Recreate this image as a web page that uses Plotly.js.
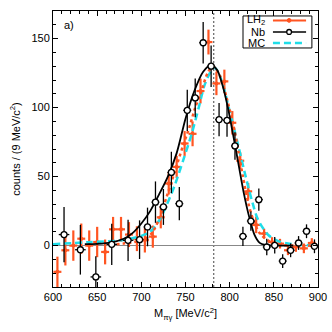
<!DOCTYPE html>
<html>
<head>
<meta charset="utf-8">
<script src="https://cdn.plot.ly/plotly-3.0.1.min.js"></script>
<style>
  html, body { margin: 0; padding: 0; background: #fff; }
  #chart { width: 332px; height: 332px; }
</style>
</head>
<body>
<div id="chart"></div>
<script>
// LH2 data points (9 MeV bins)
var lh2Mass = [605, 614, 623, 632, 641, 650, 659, 668, 677, 686, 695, 704, 713, 722, 731, 740, 749, 758, 767, 776, 785, 794, 803, 812, 821, 830, 839, 848, 857, 866, 875, 884, 893];
var lh2Counts = [-19, -3.4, 0, 5, 0, 2.6, -4.6, 11.8, 11.8, 8, 5, 4, 6.5, 20.5, 45, 57, 74, 81, 112, 147.5, 117.5, 119, 89, 61.5, 39.3, 15, 8.7, 2.6, 1.4, -3.4, -1, -2, 1.9];
var lh2Err = [11, 11, 11, 11, 11, 11, 9, 9, 9, 9, 9, 9, 8, 8, 8, 8, 9, 9, 9, 9, 8.5, 8.5, 8.5, 6, 6, 6, 3.5, 3.5, 3.5, 3.5, 3.5, 3.5, 3.5];

// Nb data points
var nbMass = [612.5, 631, 648.5, 666.5, 685, 698, 707, 716, 725, 734, 743, 752, 761, 770, 779, 788, 797, 806, 815, 824, 833, 842, 851, 860, 869, 878, 887, 896];
var nbCounts = [8, -3, -22.7, 0.9, 3.8, 4.3, 13.5, 31.5, 28, 53, 30.4, 98, 107, 147, 130, 91.3, 90.8, 72.2, 6.7, 17.8, 33.3, -1, 0.2, -11.2, -3.4, 1.9, 10.4, -0.5];
var nbErr = [20, 18, 15, 15, 15, 14, 14, 15, 13, 15, 12, 15, 14, 15, 15, 12, 12, 10, 7, 7, 8, 6, 6, 5, 5, 5, 5, 5];
var nbMassErr = [6, 6, 6, 6, 6, 4.5, 4.5, 4.5, 4.5, 4.5, 4.5, 4.5, 4.5, 4.5, 4.5, 4.5, 4.5, 4.5, 4.5, 4.5, 4.5, 4.5, 4.5, 4.5, 4.5, 4.5, 4.5, 4.5];

// fit curves
var nbFitX = [636, 650, 665, 680, 690, 700, 710, 720, 730, 740, 750, 760, 770, 779, 786, 792, 798, 804, 810, 816, 822, 828, 834, 840, 850, 872];
var nbFitY = [1, 1.3, 2.2, 5, 9, 16, 25, 37, 50, 67, 92, 112, 126, 131, 127, 116, 100, 80, 59, 38, 21, 8, 2, 0.5, 0, 0];

var lh2FitX = [665, 680, 695, 705, 713, 721, 729, 737, 747, 755, 761, 767, 775, 781, 789, 797, 804, 810, 815, 821, 827, 834, 844, 859, 880, 895];
var lh2FitY = [0.5, 1.5, 3, 5, 10, 21, 36, 52, 72, 87, 100, 110, 125, 130, 123, 106, 88, 68, 50, 31, 18, 9, 3.5, 0.5, 0, 0];

var mcX = [600, 640, 680, 700, 710, 720, 729, 738, 748, 757, 765, 772, 782, 787, 793, 799, 808, 817, 825, 832, 844, 855, 866, 880, 900];
var mcY = [1, 2.5, 4, 7, 10, 18, 30, 44, 63, 81, 100, 117, 129, 126, 115, 100, 77, 53, 33, 19, 7.5, 3.3, 1.5, 0.5, 0.2];

var omegaMass = 782;

var orange = '#ff5522';
var cyan = '#1fdde8';
var font = 'Liberation Sans, Arial, Helvetica, sans-serif';

var lh2Points = {
    x: lh2Mass, y: lh2Counts,
    mode: 'markers',
    marker: {color: orange, size: 4},
    error_y: {type: 'data', array: lh2Err, visible: true, color: orange, thickness: 2.2, width: 0},
    error_x: {type: 'constant', value: 4.5, visible: true, color: orange, thickness: 2.2, width: 0},
    showlegend: false, hoverinfo: 'skip'
};
var mcCurve = {
    x: mcX, y: mcY, mode: 'lines',
    line: {color: cyan, width: 2.5, dash: '7px,4px', shape: 'spline', smoothing: 0.8},
    showlegend: false, hoverinfo: 'skip'
};
var lh2Curve = {
    x: lh2FitX, y: lh2FitY, mode: 'lines',
    line: {color: orange, width: 2.5, dash: 'dot', shape: 'spline', smoothing: 0.8},
    showlegend: false, hoverinfo: 'skip'
};
var nbCurve = {
    x: nbFitX, y: nbFitY, mode: 'lines',
    line: {color: '#000', width: 1.8, shape: 'spline', smoothing: 0.8},
    showlegend: false, hoverinfo: 'skip'
};
var nbPoints = {
    x: nbMass, y: nbCounts,
    mode: 'markers',
    marker: {color: '#fff', size: 6, line: {color: '#000', width: 1.3}},
    error_y: {type: 'data', array: nbErr, visible: true, color: '#000', thickness: 1.3, width: 0},
    error_x: {type: 'data', array: nbMassErr, visible: true, color: '#000', thickness: 1.3, width: 0},
    showlegend: false, hoverinfo: 'skip'
};

var data = [lh2Points, mcCurve, lh2Curve, nbCurve, nbPoints];

// hand-drawn legend (text sits left of the sample, as in the figure)
var rows = [0.966, 0.924, 0.884];
var shapes = [
    {type: 'line', xref: 'x', yref: 'paper', x0: omegaMass, x1: omegaMass, y0: 0, y1: 1,
     line: {color: '#444', width: 1, dash: '2px,2px'}, layer: 'below'},
    {type: 'rect', xref: 'paper', yref: 'paper', x0: 0.717, x1: 0.977, y0: 0.866, y1: 0.982,
     line: {color: '#000', width: 1}, fillcolor: '#fff'},
    {type: 'line', xref: 'paper', yref: 'paper', x0: 0.83, x1: 0.955, y0: rows[0], y1: rows[0],
     line: {color: orange, width: 2}},
    {type: 'line', xref: 'paper', yref: 'paper', x0: 0.83, x1: 0.955, y0: rows[1], y1: rows[1],
     line: {color: '#000', width: 1.3}},
    {type: 'line', xref: 'paper', yref: 'paper', x0: 0.83, x1: 0.955, y0: rows[2], y1: rows[2],
     line: {color: cyan, width: 2.5, dash: '7px,4px'}},
    {type: 'circle', xref: 'paper', yref: 'paper', x0: 0.884, x1: 0.898, y0: rows[0] - 0.007, y1: rows[0] + 0.007,
     line: {color: orange, width: 1}, fillcolor: orange},
    {type: 'circle', xref: 'paper', yref: 'paper', x0: 0.882, x1: 0.9, y0: rows[1] - 0.009, y1: rows[1] + 0.009,
     line: {color: '#000', width: 1.3}, fillcolor: '#fff'}
];

var annotations = [
    {text: 'a)', xref: 'paper', yref: 'paper', x: 0.035, y: 0.95, xanchor: 'left', yanchor: 'middle',
     showarrow: false, font: {family: font, size: 11, color: '#000'}},
    {text: 'LH<sub>2</sub>', xref: 'paper', yref: 'paper', x: 0.806, y: rows[0], xanchor: 'right', yanchor: 'middle',
     showarrow: false, font: {family: font, size: 11, color: '#000'}},
    {text: 'Nb', xref: 'paper', yref: 'paper', x: 0.806, y: rows[1], xanchor: 'right', yanchor: 'middle',
     showarrow: false, font: {family: font, size: 11, color: '#000'}},
    {text: 'MC', xref: 'paper', yref: 'paper', x: 0.806, y: rows[2], xanchor: 'right', yanchor: 'middle',
     showarrow: false, font: {family: font, size: 11, color: '#000'}}
];

var layout = {
    width: 332, height: 332,
    margin: {l: 53, r: 14, t: 11, b: 45},
    paper_bgcolor: '#fff', plot_bgcolor: '#fff',
    font: {family: font, size: 11, color: '#000'},
    showlegend: false,
    xaxis: {
        range: [600, 900], dtick: 50, tick0: 600,
        ticks: 'inside', ticklen: 5, tickcolor: '#000',
        minor: {ticks: 'inside', dtick: 10, ticklen: 3, tickcolor: '#000'},
        showline: true, linecolor: '#000', linewidth: 1, mirror: 'allticks',
        showgrid: false, zeroline: false,
        tickfont: {family: font, size: 11, color: '#000'},
        title: {text: 'M<sub>πγ</sub> [MeV/c<sup>2</sup>]', font: {family: font, size: 11, color: '#000'}, standoff: 7}
    },
    yaxis: {
        range: [-30, 170], dtick: 50, tick0: 0,
        ticks: 'inside', ticklen: 5, tickcolor: '#000',
        minor: {ticks: 'inside', dtick: 10, ticklen: 3, tickcolor: '#000'},
        showline: true, linecolor: '#000', linewidth: 1, mirror: 'allticks',
        showgrid: false,
        zeroline: true, zerolinecolor: '#888', zerolinewidth: 1,
        tickfont: {family: font, size: 11, color: '#000'},
        title: {text: 'counts / (9 MeV/c<sup>2</sup>)', font: {family: font, size: 11, color: '#000'}, standoff: 8}
    },
    shapes: shapes,
    annotations: annotations
};

Plotly.newPlot('chart', data, layout, {staticPlot: true, displayModeBar: false});
</script>
</body>
</html>
